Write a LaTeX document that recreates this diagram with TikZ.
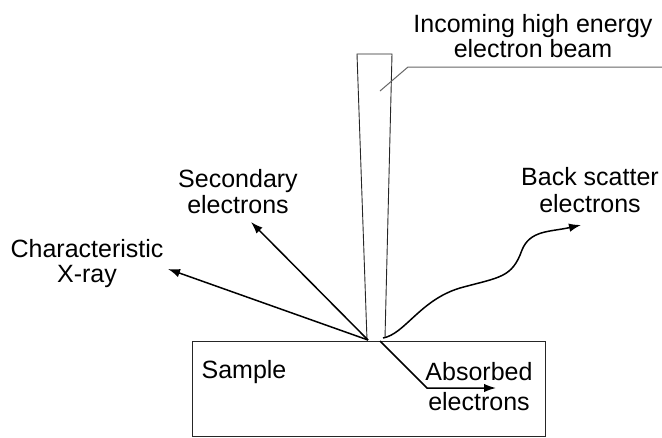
\documentclass[tikz,border=0pt]{standalone}
\usepackage{fontspec}
\setmainfont{Liberation Sans}
\usetikzlibrary{arrows.meta}
\begin{document}
\begin{tikzpicture}[x=1pt,y=-1pt,
  lbl/.style={anchor=north,inner sep=0pt,align=center},
  thin line/.style={line width=0.9pt,draw=black!85},
  ray/.style={line width=1.5pt,-{Latex[length=12pt,width=8.5pt]}}]
\useasboundingbox (0,0) rectangle (662,437);
% sample
\node[thin line,draw,minimum width=353pt,minimum height=95pt,inner sep=0pt] (sample) at (368.5,388.5) {};
\node[lbl,font=\fontsize{25}{27}\selectfont] (samplelbl) at (244,360) {Sample};
% beam
\coordinate (bl) at (367,340);
\coordinate (tl) at (357,54);
\coordinate (tr) at (392,54);
\coordinate (br) at (385,338);
\draw[thin line] (bl) -- (tl) -- (tr) -- (br);
% leader
\coordinate (lead0) at (380,91);
\coordinate (lead1) at (408,67);
\coordinate (lead2) at (662,67);
\draw[line width=1pt,draw=black!60] (lead0) -- (lead1) -- (lead2);
\node[lbl,font=\fontsize{25}{25}\selectfont] (incoming) at (533,14) {Incoming high energy\\electron beam};
% emission origin
\coordinate (O) at (368,340);
\coordinate (secT) at (251,222);
\coordinate (xrT) at (168,269);
\draw[ray] (O) -- (secT);
\draw[ray] (O) -- (xrT);
\node[lbl,font=\fontsize{25}{26}\selectfont] (secondary) at (238,169) {Secondary\\electrons};
\node[lbl,font=\fontsize{25}{25}\selectfont] (xray) at (87,239) {Characteristic\\X-ray};
% back scatter
\coordinate (bsS) at (383,338);
\coordinate (bsA) at (460,288);
\coordinate (bsB) at (522,250);
\coordinate (bsT) at (581,225);
\draw[ray] (bsS) .. controls (405,334) and (420,300) .. (bsA)
  .. controls (500,277) and (512,278) .. (bsB)
  .. controls (530,230) and (550,232) .. (bsT);
\node[lbl,font=\fontsize{25}{27}\selectfont] (backscatter) at (590,167) {Back scatter\\electrons};
% absorbed
\coordinate (abS) at (380,341);
\coordinate (abK) at (427,388);
\coordinate (abT) at (496,388);
\draw[ray] (abS) -- (abK) -- (abT);
\node[lbl,font=\fontsize{25}{30}\selectfont] (absorbed) at (479,362) {Absorbed\\electrons};
\end{tikzpicture}
\end{document}
